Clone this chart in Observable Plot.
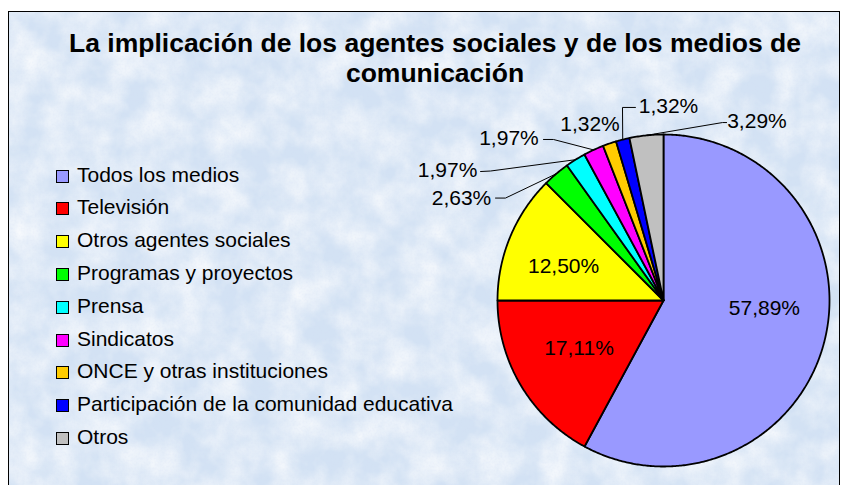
<!DOCTYPE html>
<html>
<head>
<meta charset="utf-8">
<script src="https://cdn.jsdelivr.net/npm/d3@7"></script>
<script src="https://cdn.jsdelivr.net/npm/@observablehq/plot@0.6"></script>
<style>
html,body{margin:0;padding:0;background:#fff;}
#wrap{position:relative;width:841px;height:485px;overflow:hidden;font-family:"Liberation Sans",Arial,sans-serif;color:#000;}
#frame{position:absolute;left:8px;top:11px;width:832px;height:500px;border:1px solid #000;box-sizing:border-box;overflow:hidden;}
#frame svg{position:absolute;left:0;top:0;}
#title{position:absolute;left:35px;width:800px;top:28px;text-align:center;font-weight:bold;font-size:26.5px;line-height:30px;white-space:nowrap;}
.lg-key{position:absolute;width:11px;height:11px;border:1px solid #000;}
.lg-txt{position:absolute;font-size:21px;line-height:24px;white-space:nowrap;}
#chart{position:absolute;left:0;top:0;}
</style>
</head>
<body>
<div id="wrap">
  <div id="frame">
    <svg width="832" height="500">
      <defs>
        <filter id="tex" x="0" y="0" width="100%" height="100%">
          <feTurbulence type="fractalNoise" baseFrequency="0.03" numOctaves="4" seed="3"/>
          <feColorMatrix type="matrix" values="0 0 0 0 1  0 0 0 0 1  0 0 0 0 1  1.3 0 0 0 -0.38"/>
        </filter>
        <filter id="tex2" x="0" y="0" width="100%" height="100%">
          <feTurbulence type="fractalNoise" baseFrequency="0.5" numOctaves="2" seed="7"/>
          <feColorMatrix type="matrix" values="0 0 0 0 0.66  0 0 0 0 0.72  0 0 0 0 0.9  0 0 1.4 0 -0.62"/>
        </filter>
      </defs>
      <rect width="100%" height="100%" fill="#d3e2f4"/>
      <rect width="100%" height="100%" filter="url(#tex)"/>
      <rect width="100%" height="100%" filter="url(#tex2)" opacity="0.35"/>
    </svg>
  </div>
  <div id="title">La implicación de los agentes sociales y de los medios de<br>comunicación</div>
  <div id="legend"></div>
  <div id="chart"></div>
</div>
<script>
// ---- data ----
const categories = [
  "Todos los medios",
  "Televisión",
  "Otros agentes sociales",
  "Programas y proyectos",
  "Prensa",
  "Sindicatos",
  "ONCE y otras instituciones",
  "Participación de la comunidad educativa",
  "Otros"
];
const values = [57.89, 17.11, 12.50, 2.63, 1.97, 1.97, 1.32, 1.32, 3.29];
const colors = ["#9999ff", "#ff0000", "#ffff00", "#00ff00", "#00ffff", "#ff00ff", "#ffcc00", "#0000ff", "#c0c0c0"];

// ---- layout (label anchors in pie-radius units) ----
const labelLayout = [
  [0.608, -0.048], [-0.509, -0.286], [-0.602, 0.208],
  [-1.217, 0.617], [-1.301, 0.783], [-0.931, 0.976],
  [-0.443, 1.060], [0.030, 1.169], [0.563, 1.078]
];
// leader polylines after the slice-edge point: [elbow, end] (null = no leader)
const leaderLayout = [
  null, null, null,
  [[-0.952, 0.617], [-1.012, 0.617]],
  [[-1.042, 0.780], [-1.102, 0.777]],
  [[-0.663, 0.970], [-0.723, 0.970]],
  null,
  [[-0.247, 1.163], [-0.169, 1.163]],
  [[0.355, 1.072], [0.380, 1.072]]
];

const fmt = v => d3.format(".2f")(v).replace(".", ",") + "%";

// ---- legend ----
const legend = document.getElementById("legend");
categories.forEach((c, i) => {
  const cy = 176 + 32.8 * i;
  const k = document.createElement("div");
  k.className = "lg-key";
  k.style.left = "56px";
  k.style.top = (cy - 6.5) + "px";
  k.style.background = colors[i];
  legend.appendChild(k);
  const t = document.createElement("div");
  t.className = "lg-txt";
  t.style.left = "77px";
  t.style.top = (cy - 13.5) + "px";
  t.textContent = c;
  legend.appendChild(t);
});

// ---- pie geometry ----
const arcs = d3.pie().sort(null).value(d => d)(values);
const slicePts = [];
arcs.forEach((a, i) => {
  slicePts.push({k: i, x: 0, y: 0});
  const n = Math.max(2, Math.ceil((a.endAngle - a.startAngle) / (Math.PI / 360)));
  for (let j = 0; j <= n; j++) {
    const t = a.startAngle + (a.endAngle - a.startAngle) * j / n;
    slicePts.push({k: i, x: Math.sin(t), y: Math.cos(t)});
  }
  slicePts.push({k: i, x: 0, y: 0});
});

const labels = arcs.map((a, i) => ({
  text: fmt(values[i]), x: labelLayout[i][0], y: labelLayout[i][1]
}));

const leaders = [];
arcs.forEach((a, i) => {
  const L = leaderLayout[i];
  if (!L) return;
  const m = (a.startAngle + a.endAngle) / 2;
  leaders.push({k: i, x: Math.sin(m), y: Math.cos(m)});
  L.forEach(p => leaders.push({k: i, x: p[0], y: p[1]}));
});

const cx = 663, cyc = 300, R = 166;
const chart = Plot.plot({
  width: 841,
  height: 485,
  margin: 0,
  style: {background: "transparent", overflow: "visible", fontFamily: "'Liberation Sans', Arial, sans-serif"},
  x: {domain: [-1, 1], range: [cx - R, cx + R], axis: null},
  y: {domain: [-1, 1], range: [cyc + R, cyc - R], axis: null},
  color: {domain: categories, range: colors},
  marks: [
    Plot.line(slicePts, {x: "x", y: "y", z: "k", fill: d => categories[d.k], stroke: "#000", strokeWidth: 1.8, strokeLinejoin: "round", curve: "linear"}),
    Plot.line(leaders, {x: "x", y: "y", z: "k", stroke: "#000", strokeWidth: 1}),
    Plot.text(labels, {x: "x", y: "y", text: "text", fontSize: 21, fill: "#000"})
  ]
});
document.getElementById("chart").appendChild(chart);
</script>
</body>
</html>
